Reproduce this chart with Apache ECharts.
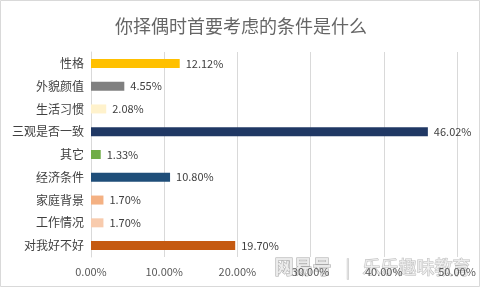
<!DOCTYPE html>
<html>
<head>
<meta charset="utf-8">
<script src="https://cdn.jsdelivr.net/npm/echarts@6/dist/echarts.min.js"></script>
<style>
  html, body { margin: 0; padding: 0; background: #fff; }
  #chart { width: 482px; height: 290px; }
</style>
</head>
<body>
<div id="chart"></div>
<script>
// Chart data (top to bottom as shown)
const categories = ['性格', '外貌颜值', '生活习惯', '三观是否一致', '其它', '经济条件', '家庭背景', '工作情况', '对我好不好'];
const values = [12.12, 4.55, 2.08, 46.02, 1.33, 10.80, 1.70, 1.70, 19.70];
const barColors = ['#FFC000', '#808080', '#FFF2CC', '#203864', '#70AD47', '#1F4E79', '#F4B183', '#F8CBAD', '#C55A11'];
const axisTicks = [0, 10, 20, 30, 40, 50];

const font = '"Noto Sans CJK SC", "Noto Sans", sans-serif';

const chart = echarts.init(document.getElementById('chart'));

chart.setOption({
  animation: false,
  title: {
    text: '你择偶时首要考虑的条件是什么',
    left: 'center',
    top: 12,
    textStyle: { fontFamily: font, fontSize: 18, fontWeight: 'normal', color: '#666666' },
  },
  grid: { left: 91, right: 25, top: 52, bottom: 33 },
  xAxis: {
    type: 'value',
    min: axisTicks[0],
    max: axisTicks[axisTicks.length - 1],
    interval: 10,
    axisLine: { show: false },
    axisTick: { show: false },
    splitLine: { lineStyle: { color: '#D9D9D9', width: 1 } },
    axisLabel: {
      fontFamily: font,
      fontSize: 11,
      color: '#595959',
      margin: 9,
      formatter: (v) => v.toFixed(2) + '%',
    },
  },
  yAxis: {
    type: 'category',
    inverse: true,
    data: categories,
    axisLine: { lineStyle: { color: '#D9D9D9' } },
    axisTick: { show: false },
    axisLabel: { fontFamily: font, fontSize: 12, color: '#404040', margin: 7 },
  },
  series: [{
    type: 'bar',
    barWidth: 9,
    data: values.map((v, i) => ({ value: v, itemStyle: { color: barColors[i] } })),
    label: {
      show: true,
      position: 'right',
      distance: 6,
      fontFamily: font,
      fontSize: 11,
      color: '#404040',
      formatter: (p) => p.value.toFixed(2) + '%',
    },
  }],
  graphic: [
    {
      type: 'rect',
      shape: { x: 0.5, y: 0.5, width: 479, height: 286 },
      style: { fill: null, stroke: '#D9D9D9', lineWidth: 1 },
      silent: true,
    },
    {
      type: 'text',
      left: 274,
      top: 257,
      style: {
        text: '网易号',
        font: 'bold 19px ' + font,
        fill: 'rgba(235,235,235,0.92)',
        stroke: 'rgba(110,110,110,0.6)',
        lineWidth: 1,
      },
      silent: true,
    },
    {
      type: 'text',
      left: 345,
      top: 258,
      style: {
        text: '|   乐乐趣味教育',
        font: '18px ' + font,
        fill: 'rgba(240,240,240,0.9)',
        stroke: 'rgba(120,120,120,0.5)',
        lineWidth: 1,
      },
      silent: true,
    },
  ],
});
</script>
</body>
</html>
